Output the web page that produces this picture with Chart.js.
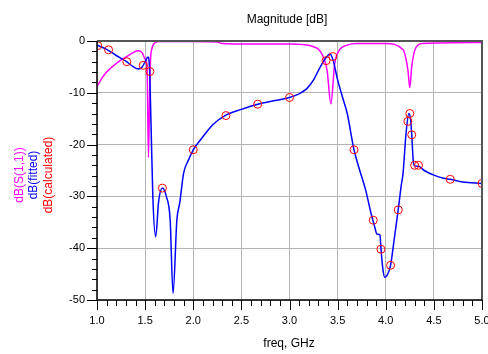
<!DOCTYPE html>
<html>
<head>
<meta charset="utf-8">
<script src="https://cdn.jsdelivr.net/npm/chart.js@4.4.1/dist/chart.umd.min.js"></script>
<style>
  html, body { margin: 0; padding: 0; background: #fff; }
  #wrap { width: 488px; height: 354px; }
</style>
</head>
<body>
<div id="wrap"><canvas id="magChart" width="488" height="354"></canvas></div>
<script>
// values (freq in GHz, magnitude in dB)
const fitFreq = [1.00, 1.10, 1.20, 1.30, 1.38, 1.43, 1.47, 1.50, 1.53, 1.545, 1.56, 1.58, 1.61, 1.64, 1.68, 1.72, 1.76, 1.79, 1.83, 1.86, 1.90, 1.95, 2.00, 2.10, 2.20, 2.33, 2.50, 2.67, 2.85, 3.00, 3.10, 3.18, 3.25, 3.32, 3.38, 3.42, 3.45, 3.50, 3.55, 3.60, 3.67, 3.73, 3.79, 3.85, 3.88, 3.91, 3.94, 3.95, 3.97, 3.99, 4.02, 4.05, 4.09, 4.13, 4.16, 4.18, 4.21, 4.24, 4.26, 4.27, 4.285, 4.30, 4.34, 4.40, 4.50, 4.60, 4.67, 4.80, 5.00];
const fitDb = [-0.8, -1.6, -2.8, -3.9, -5.0, -5.4, -5.0, -4.0, -3.1, -5, -15, -30, -37.8, -31, -28.4, -30, -34.5, -48.7, -34.5, -31.2, -25.5, -23, -21, -18.5, -16.2, -14.4, -13.2, -12.2, -11.5, -10.9, -10.2, -9.2, -7.5, -5.0, -3.2, -2.5, -3.5, -7.5, -10.8, -14, -21, -25, -28.7, -33.5, -35.5, -37.3, -37.4, -40, -44, -45.6, -45, -43.3, -38, -32.5, -28, -25.5, -18, -14.0, -15.5, -18.1, -23, -24.1, -24.2, -25, -25.9, -26.5, -26.7, -27.2, -27.5];

const s11Freq = [1.00, 1.05, 1.10, 1.17, 1.24, 1.31, 1.38, 1.43, 1.47, 1.50, 1.52, 1.535, 1.545, 1.555, 1.57, 1.60, 1.65, 2.00, 2.25, 2.30, 2.60, 3.00, 3.15, 3.25, 3.32, 3.39, 3.43, 3.47, 3.51, 3.60, 3.70, 4.00, 4.18, 4.23, 4.25, 4.27, 4.31, 4.38, 5.00];
const s11Db = [-8.8, -7.2, -6.0, -4.8, -3.8, -3.0, -2.2, -1.9, -2.3, -3.5, -5, -22.5, -12, -4, -1.5, -0.4, -0.1, -0.1, -0.2, -0.5, -0.6, -0.6, -0.7, -1.1, -2.0, -5.6, -12.1, -4.3, -2.0, -0.8, -0.5, -0.5, -1.7, -5.6, -9, -4.9, -1.4, -0.5, -0.3];

const calcFreq = [1.007, 1.12, 1.31, 1.48, 1.55, 1.68, 2.00, 2.34, 2.67, 3.00, 3.38, 3.45, 3.67, 3.87, 3.95, 4.05, 4.13, 4.23, 4.25, 4.27, 4.30, 4.34, 4.67, 5.00];
const calcDb = [-0.9, -1.7, -4.0, -4.7, -5.9, -28.4, -21.0, -14.4, -12.2, -10.9, -3.8, -3.0, -21.0, -34.6, -40.2, -43.3, -32.6, -15.5, -14.0, -18.1, -24.0, -24.0, -26.7, -27.5];

const xTickStep = 0.1;
const yTickStep = 2;

function pts(xs, ys) {
  return xs.map((x, i) => ({ x: x, y: ys[i] }));
}

const isMajorX = v => Math.abs(v * 2 - Math.round(v * 2)) < 1e-6;
const isMajorY = v => Math.abs(v % 10) < 1e-6;

// tick marks, frame and the text around the plot
const decorPlugin = {
  id: 'decor',
  afterDraw(chart) {
    const c = chart.ctx;
    const a = chart.chartArea;
    const xs = chart.scales.x, ys = chart.scales.y;
    c.save();
    c.strokeStyle = '#000';
    c.lineWidth = 1;
    c.beginPath();
    xs.ticks.forEach(t => {
      const px = Math.round(xs.getPixelForValue(t.value)) + 0.5;
      const len = isMajorX(t.value) ? 10 : 6;
      c.moveTo(px, a.bottom);
      c.lineTo(px, a.bottom + len);
    });
    ys.ticks.forEach(t => {
      const py = Math.round(ys.getPixelForValue(t.value)) + 0.5;
      const len = isMajorY(t.value) ? 10 : 5;
      c.moveTo(a.left, py);
      c.lineTo(a.left - len, py);
    });
    c.stroke();

    // top and right frame
    c.strokeStyle = '#555';
    c.lineWidth = 2;
    c.beginPath();
    c.moveTo(a.left, a.top);
    c.lineTo(a.right, a.top);
    c.lineTo(a.right, a.bottom);
    c.stroke();
    // left and bottom axis
    c.strokeStyle = '#000';
    c.lineWidth = 1.5;
    c.beginPath();
    c.moveTo(a.left, a.top);
    c.lineTo(a.left, a.bottom);
    c.lineTo(a.right, a.bottom);
    c.stroke();

    c.fillStyle = '#000';
    c.font = '12px "Liberation Sans", Arial, sans-serif';
    c.textAlign = 'center';
    c.textBaseline = 'middle';
    c.fillText('Magnitude [dB]', 287, 20);
    c.fillText('freq, GHz', 289, 344);

    const labels = [['dB(S(1,1))', '#ff00ff', 20], ['dB(fitted)', '#0000ff', 34], ['dB(calculated)', '#ff0000', 49]];
    labels.forEach(l => {
      c.save();
      c.translate(l[2], 175);
      c.rotate(-Math.PI / 2);
      c.fillStyle = l[1];
      c.fillText(l[0], 0, 0);
      c.restore();
    });
    c.restore();
  }
};

const ctx = document.getElementById('magChart');
new Chart(ctx, {
  type: 'scatter',
  data: {
    datasets: [
      {
        label: 'dB(S(1,1))',
        data: pts(s11Freq, s11Db),
        showLine: true,
        borderColor: '#ff00ff',
        borderWidth: 1.5,
        pointRadius: 0,
        cubicInterpolationMode: 'monotone',
        order: 3
      },
      {
        label: 'dB(fitted)',
        data: pts(fitFreq, fitDb),
        showLine: true,
        borderColor: '#0000ff',
        borderWidth: 1.5,
        pointRadius: 0,
        cubicInterpolationMode: 'monotone',
        order: 2
      },
      {
        label: 'dB(calculated)',
        data: pts(calcFreq, calcDb),
        showLine: false,
        borderColor: '#ff0000',
        backgroundColor: 'rgba(0,0,0,0)',
        borderWidth: 1,
        pointRadius: 4,
        pointStyle: 'circle',
        order: 1
      }
    ]
  },
  options: {
    responsive: false,
    devicePixelRatio: 1,
    animation: false,
    layout: { padding: { left: 0, right: 6, top: 41, bottom: 0 } },
    plugins: {
      legend: { display: false },
      title: { display: false },
      tooltip: { enabled: false }
    },
    scales: {
      x: {
        type: 'linear',
        min: 1,
        max: 5,
        afterFit: s => { s.height = 54; s.paddingLeft = 0; s.paddingRight = 0; },
        afterBuildTicks: s => {
          const t = [];
          for (let i = 0; i <= 40; i++) t.push({ value: +(1 + i * xTickStep).toFixed(2) });
          s.ticks = t;
        },
        ticks: {
          autoSkip: false,
          maxRotation: 0,
          padding: 14,
          color: '#000',
          font: { family: '"Liberation Sans", Arial, sans-serif', size: 11 },
          callback: v => isMajorX(v) ? v.toFixed(1) : ''
        },
        grid: {
          drawTicks: false,
          color: c => (c.tick && isMajorX(c.tick.value)) ? '#b4b4b4' : 'rgba(0,0,0,0)',
          lineWidth: 1
        },
        border: { display: false }
      },
      y: {
        type: 'linear',
        min: -50,
        max: 0,
        afterFit: s => { s.width = 97; s.paddingTop = 0; s.paddingBottom = 0; },
        afterBuildTicks: s => {
          const t = [];
          for (let v = -50; v <= 0; v += yTickStep) t.push({ value: v });
          s.ticks = t;
        },
        ticks: {
          autoSkip: false,
          padding: 12,
          color: '#000',
          font: { family: '"Liberation Sans", Arial, sans-serif', size: 11 },
          callback: v => isMajorY(v) ? String(v) : ''
        },
        grid: {
          drawTicks: false,
          color: c => (c.tick && isMajorY(c.tick.value)) ? '#b4b4b4' : 'rgba(0,0,0,0)',
          lineWidth: 1
        },
        border: { display: false }
      }
    }
  },
  plugins: [decorPlugin]
});
</script>
</body>
</html>
